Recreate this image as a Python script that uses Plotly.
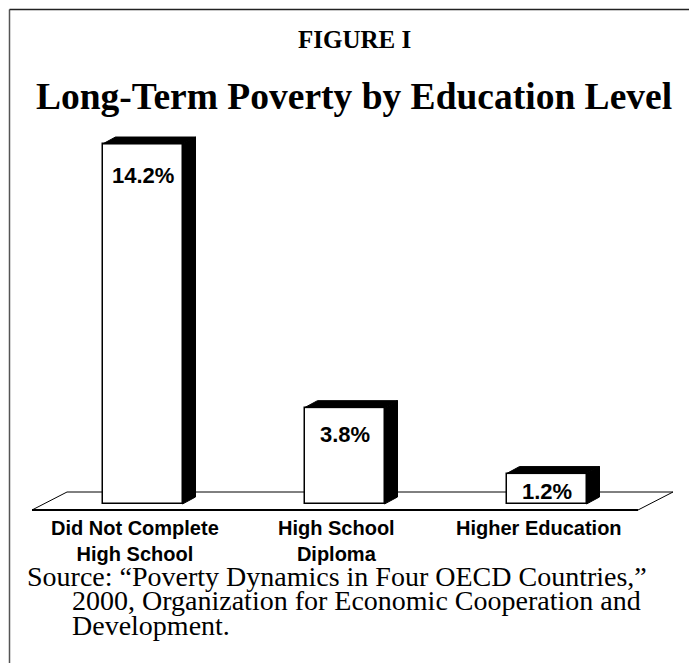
import plotly.graph_objects as go

# ---- data ----
categories = ["Did Not Complete<br>High School", "High School<br>Diploma", "Higher Education"]
values = [14.2, 3.8, 1.2]
value_labels = ["14.2%", "3.8%", "1.2%"]
label_drop_px = [31, 27, 18]   # how far below each bar top its label sits

fig_title = "Long-Term Poverty by Education Level"
fig_kicker = "FIGURE I"
source_lines = [
    "Source: \u201cPoverty Dynamics in Four OECD Countries,\u201d",
    "2000, Organization for Economic Cooperation and",
    "Development.",
]

# ---- geometry (pixels) ----
W, H = 689, 663
X0_PX, STEP_PX = 142.5, 202.0      # centre of first bar, spacing
Y0_PX, UNIT_PX = 504.0, 25.35      # baseline pixel row, pixels per percent
BAR_W_PX = 80.0
DEPTH_X_PX, DEPTH_Y_PX = 13.0, 7.0

xr = [-X0_PX / STEP_PX, (W - X0_PX) / STEP_PX]
yr = [-(H - Y0_PX) / UNIT_PX, Y0_PX / UNIT_PX]
bw = BAR_W_PX / STEP_PX
dxu = DEPTH_X_PX / STEP_PX
dyu = DEPTH_Y_PX / UNIT_PX


def px(p):
    return p / W


def py(p):
    return 1 - p / H


xs = list(range(len(values)))
fig = go.Figure()

# 3-D side and top faces
for x, v in zip(xs, values):
    l, r = x - bw / 2, x + bw / 2
    fig.add_trace(go.Scatter(
        x=[r, r + dxu, r + dxu, r, r],
        y=[0, dyu, v + dyu, v, 0],
        fill="toself", fillcolor="black", mode="lines",
        line=dict(color="black", width=1), hoverinfo="skip", showlegend=False))
    fig.add_trace(go.Scatter(
        x=[l, l + dxu, r + dxu, r, l],
        y=[v, v + dyu, v + dyu, v, v],
        fill="toself", fillcolor="black", mode="lines",
        line=dict(color="black", width=1), hoverinfo="skip", showlegend=False))

# front faces
fig.add_trace(go.Bar(
    x=xs, y=values, width=bw, base=0,
    marker=dict(color="white", line=dict(color="black", width=1.5)),
    hoverinfo="skip", showlegend=False))

# value labels
for x, v, t, d in zip(xs, values, value_labels, label_drop_px):
    fig.add_annotation(x=x, y=v, text=f"<b>{t}</b>", showarrow=False, yanchor="middle",
                       yshift=-d,
                       font=dict(family="Liberation Sans, Arial", size=22, color="black"))

# category labels
for x, c in zip(xs, categories):
    fig.add_annotation(x=x, y=0, text=f"<b>{c}</b>", showarrow=False,
                       yanchor="top", yshift=-11, xshift=-8,
                       font=dict(family="Liberation Sans, Arial", size=20, color="black"))

# floor
floor_path = (f"M {px(32)},{py(510)} L {px(638)},{py(510)} L {px(673)},{py(492)} "
              f"L {px(67)},{py(492)} Z")
fig.add_shape(type="path", path=floor_path, xref="paper", yref="paper",
              line=dict(color="black", width=1), fillcolor="white", layer="below")
fig.add_shape(type="line", x0=px(32), x1=px(638), y0=py(510), y1=py(510),
              xref="paper", yref="paper", line=dict(color="black", width=2), layer="below")

# frame
fig.add_shape(type="line", x0=px(9.5), x1=px(9.5), y0=py(9.5), y1=0,
              xref="paper", yref="paper", line=dict(color="#555555", width=1.5))
fig.add_shape(type="line", x0=px(9.5), x1=1, y0=py(9.5), y1=py(9.5),
              xref="paper", yref="paper", line=dict(color="#222222", width=1.5))

# titles
fig.add_annotation(x=px(354), y=py(39), xref="paper", yref="paper",
                   text=f"<b>{fig_kicker}</b>", showarrow=False, yanchor="middle",
                   font=dict(family="Liberation Serif, Times New Roman", size=25, color="black"))
fig.add_annotation(x=px(354), y=py(96), xref="paper", yref="paper",
                   text=f"<b>{fig_title}</b>", showarrow=False, yanchor="middle",
                   font=dict(family="Liberation Serif, Times New Roman", size=37.5, color="black"))

# source
src_x = [25, 70, 70]
src_y = [576, 600.5, 625]
for t, sx, sy in zip(source_lines, src_x, src_y):
    fig.add_annotation(x=px(sx), y=py(sy), xref="paper", yref="paper", text=t,
                       showarrow=False, xanchor="left", yanchor="middle",
                       font=dict(family="Liberation Serif, Times New Roman", size=28, color="black"))

fig.update_layout(
    width=W, height=H, margin=dict(l=0, r=0, t=0, b=0),
    paper_bgcolor="white", plot_bgcolor="rgba(0,0,0,0)",
    xaxis=dict(range=xr, visible=False, fixedrange=True),
    yaxis=dict(range=yr, visible=False, fixedrange=True),
    bargap=0, showlegend=False,
)

fig.write_html("out.html")
